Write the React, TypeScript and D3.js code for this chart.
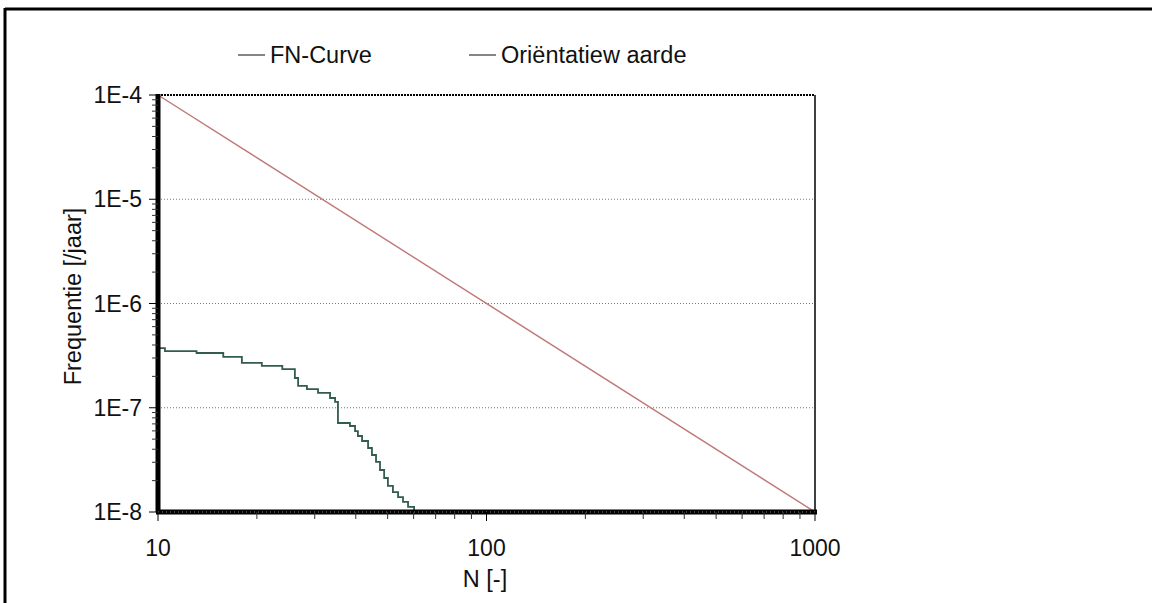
import React from "react";
import * as d3 from "d3";

const W = 1152;
const H = 603;

// FN-Curve step data (N [-], Frequentie [/jaar])
const fnN = [10, 10.5, 13.1, 15.8, 18.0, 20.7, 23.9, 26.1, 26.7, 28.4, 30.7, 33.4, 34.6, 35.3, 38.4, 39.8, 40.6, 41.8, 43.6, 44.8, 46.1, 47.4, 48.8, 50.1, 51.9, 53.8, 55.7, 57.7, 60.2];
const fnF = [3.74e-7, 3.5e-7, 3.35e-7, 3.07e-7, 2.69e-7, 2.52e-7, 2.35e-7, 1.93e-7, 1.62e-7, 1.51e-7, 1.39e-7, 1.24e-7, 1.14e-7, 7.14e-8, 6.68e-8, 5.98e-8, 5.36e-8, 4.8e-8, 4.11e-8, 3.52e-8, 3.02e-8, 2.53e-8, 2.12e-8, 1.78e-8, 1.55e-8, 1.39e-8, 1.25e-8, 1.12e-8, 1.0e-8];

// Oriëntatiewaarde line endpoints
const orN = [10, 1000];
const orF = [1e-4, 1e-8];

const xTickValues = [10, 100, 1000];
const xTickLabels = ["10", "100", "1000"];
const yTickValues = [1e-4, 1e-5, 1e-6, 1e-7, 1e-8];
const yTickLabels = ["1E-4", "1E-5", "1E-6", "1E-7", "1E-8"];

const legendLabels = ["FN-Curve", "Oriëntatiew aarde"];
const colors = ["#325c4f", "#bf7878"];

const FONT = "'Liberation Sans', Arial, sans-serif";

export default function App() {
  const left = 158, right = 815, top = 95, bottom = 512;
  const x = d3.scaleLog().domain([10, 1000]).range([left, right]);
  const y = d3.scaleLog().domain([1e-8, 1e-4]).range([bottom, top]);

  const fnData = fnN.map((n, i) => [n, fnF[i]] as [number, number]);
  const orData = orN.map((n, i) => [n, orF[i]] as [number, number]);

  const line = d3.line<[number, number]>().x(d => x(d[0])).y(d => y(d[1]));
  const stepLine = d3.line<[number, number]>().x(d => x(d[0])).y(d => y(d[1])).curve(d3.curveStepAfter);

  const xMinor: number[] = [];
  for (let dec = 10; dec < 1000; dec *= 10) for (let k = 2; k <= 9; k++) xMinor.push(dec * k);
  const yMinor: number[] = [];
  for (let dec = 1e-8; dec < 1e-4 * 0.99; dec *= 10) for (let k = 2; k <= 9; k++) yMinor.push(dec * k);

  return (
    <svg width={W} height={H} style={{ position: "absolute", left: 0, top: 0, background: "#fff" }} fontFamily={FONT}>
      <rect x={0} y={0} width={W} height={H} fill="#fff" />
      {/* outer frame */}
      <line x1={5} x2={W} y1={9} y2={9} stroke="#000" strokeWidth={3} />
      <line x1={5} x2={5} y1={8} y2={H} stroke="#000" strokeWidth={3} />

      {/* legend */}
      {legendLabels.map((lab, i) => {
        const lx = i === 0 ? 238 : 469;
        return (
          <g key={lab}>
            <line x1={lx} x2={lx + 27} y1={55} y2={55} stroke="#444" strokeWidth={1.3} />
            <text x={lx + 32} y={63} fontSize={23.5} fill="#111">{lab}</text>
          </g>
        );
      })}

      {/* gridlines */}
      {yTickValues.slice(1, 4).map(v => (
        <line key={v} x1={left} x2={right} y1={y(v)} y2={y(v)} stroke="#777" strokeWidth={1} strokeDasharray="1,2" />
      ))}
      <line x1={left} x2={right} y1={top} y2={top} stroke="#000" strokeWidth={2} strokeDasharray="2,1" />
      <line x1={right} x2={right} y1={top} y2={bottom} stroke="#000" strokeWidth={1.5} />

      {/* series */}
      <path d={line(orData) || ""} fill="none" stroke={colors[1]} strokeWidth={1.4} />
      <path d={stepLine(fnData) || ""} fill="none" stroke={colors[0]} strokeWidth={1.8} />

      {/* axes */}
      <line x1={left} x2={left} y1={top - 1} y2={bottom} stroke="#000" strokeWidth={5} />
      <line x1={left - 2} x2={right + 2} y1={bottom} y2={bottom} stroke="#000" strokeWidth={5} />
      <line x1={left} x2={right} y1={bottom} y2={bottom} stroke="#888" strokeWidth={1} strokeDasharray="1,3" />

      {/* y ticks */}
      {yTickValues.map((v, i) => (
        <g key={v}>
          <line x1={left - 9} x2={left} y1={y(v)} y2={y(v)} stroke="#000" strokeWidth={1} />
          <text x={left - 16} y={y(v) + 8} fontSize={23} textAnchor="end" fill="#111">{yTickLabels[i]}</text>
        </g>
      ))}
      {yMinor.map(v => (
        <line key={v} x1={left - 6} x2={left} y1={y(v)} y2={y(v)} stroke="#333" strokeWidth={1} />
      ))}

      {/* x ticks */}
      {xTickValues.map((v, i) => (
        <g key={v}>
          <line x1={x(v)} x2={x(v)} y1={bottom} y2={bottom + 9} stroke="#000" strokeWidth={1} />
          <text x={x(v)} y={556} fontSize={23} textAnchor="middle" fill="#111">{xTickLabels[i]}</text>
        </g>
      ))}
      {xMinor.map(v => (
        <line key={v} x1={x(v)} x2={x(v)} y1={bottom} y2={bottom + 7} stroke="#333" strokeWidth={1} />
      ))}

      {/* axis titles */}
      <text x={485} y={587} fontSize={23.5} textAnchor="middle" fill="#111">N [-]</text>
      <text transform={`translate(81,${(top + bottom) / 2 - 7}) rotate(-90)`} fontSize={23.5} textAnchor="middle" fill="#111">Frequentie [/jaar]</text>
    </svg>
  );
}
